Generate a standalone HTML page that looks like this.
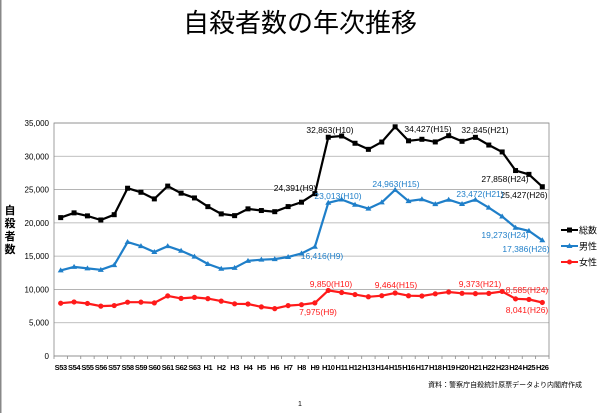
<!DOCTYPE html>
<html><head><meta charset="utf-8"><style>
body{margin:0;background:#fff;width:600px;height:413px;overflow:hidden}
svg{display:block;font-family:"Liberation Sans","Noto Sans CJK JP",sans-serif}
</style></head><body>
<svg id="s" width="600" height="413" viewBox="0 0 600 413">
<rect x="0" y="0" width="1.5" height="413" fill="#888"/>
<text x="300" y="32" font-size="26" text-anchor="middle" font-family="Noto Sans CJK JP,sans-serif">自殺者数の年次推移</text>
<g font-size="11" font-weight="bold" font-family="Noto Sans CJK JP,sans-serif" text-anchor="middle">
<text x="10" y="214">自</text><text x="10" y="227">殺</text><text x="10" y="240">者</text><text x="10" y="253">数</text></g>
<text x="582" y="387" font-size="7" text-anchor="end" font-family="Noto Sans CJK JP,sans-serif">資料：警察庁自殺統計原票データより内閣府作成</text>
<text x="300" y="406" font-size="7" text-anchor="middle">1</text>
<g id="g"></g>
</svg>
<script>
const L=54,R=549,T=123,B=356,N=37,W=(R-L)/N;
const y=v=>B-(v/35000)*(B-T), x=i=>L+W*(i+0.5);
const cats=[];for(let i=53;i<=63;i++)cats.push('S'+i);for(let i=1;i<=26;i++)cats.push('H'+i);
const tot=[20788,21503,21048,20434,21228,25202,24596,23599,25524,24460,23742,22436,21346,21084,22104,21851,21679,22445,23104,24391,32863,33048,31957,31042,32143,34427,32325,32552,32155,33093,32249,32845,31690,30651,27858,27283,25427];
const male=[12859,13386,13155,12942,13654,17116,16508,15624,16497,15802,14934,13818,13102,13242,14296,14468,14560,14874,15393,16416,23013,23512,22727,22144,23080,24963,23272,23540,22813,23478,22831,23472,22283,20955,19273,18787,17386];
const fem=[7929,8117,7893,7492,7574,8086,8088,7975,9027,8658,8808,8618,8244,7842,7808,7383,7119,7571,7711,7975,9850,9536,9230,8898,9063,9464,9053,9012,9342,9615,9418,9373,9407,9696,8585,8496,8041];
let h='';
for(let v=0;v<=35000;v+=5000){h+=`<line x1="${L}" x2="${R}" y1="${y(v)}" y2="${y(v)}" stroke="#aaa" stroke-width="0.8"/>`;
h+=`<text x="${L-5}" y="${y(v)+3}" font-size="8" text-anchor="end">${v.toLocaleString('en-US')}</text>`;}
h+=`<rect x="${L}" y="${T}" width="${R-L}" height="${B-T}" fill="none" stroke="#888" stroke-width="0.8"/>`;
for(let i=0;i<=N;i++)h+=`<line x1="${L+W*i}" x2="${L+W*i}" y1="${B}" y2="${B+3}" stroke="#888" stroke-width="0.8"/>`;
cats.forEach((c,i)=>h+=`<text x="${x(i)}" y="${B+14}" font-size="7.5" text-anchor="middle" font-weight="bold" letter-spacing="-0.4">${c}</text>`);
function ser(d,col,mk){let p=d.map((v,i)=>x(i).toFixed(1)+','+y(v).toFixed(1)).join(' ');
h+=`<polyline points="${p}" fill="none" stroke="${col}" stroke-width="2.2"/>`;
d.forEach((v,i)=>{const X=x(i),Y=y(v);
if(mk=='s')h+=`<rect x="${X-2.5}" y="${Y-2.5}" width="5" height="5" fill="${col}"/>`;
else if(mk=='t')h+=`<polygon points="${X},${Y-3} ${X-3},${Y+2} ${X+3},${Y+2}" fill="${col}"/>`;
else h+=`<circle cx="${X}" cy="${Y}" r="2.6" fill="${col}"/>`;});}
ser(tot,'#000','s');ser(male,'#1f7fc9','t');ser(fem,'#ff1a1a','c');
const lab=(t,X,Y,c)=>h+=`<text x="${X}" y="${Y}" font-size="8.5" fill="${c}" text-anchor="middle">${t}</text>`;
lab('24,391(H9)',295,191,'#000');lab('32,863(H10)',330,133,'#000');lab('34,427(H15)',428,132,'#000');lab('32,845(H21)',485,133,'#000');
lab('27,858(H24)',505,182,'#000');lab('25,427(H26)',524,198,'#000');
lab('23,013(H10)',338,199,'#1f7fc9');lab('24,963(H15)',396,187,'#1f7fc9');lab('23,472(H21)',480,197,'#1f7fc9');
lab('16,416(H9)',322,259,'#1f7fc9');lab('19,273(H24)',505,238,'#1f7fc9');lab('17,386(H26)',526,252,'#1f7fc9');
lab('9,850(H10)',331,287,'#ff1a1a');lab('9,464(H15)',396,288,'#ff1a1a');lab('9,373(H21)',480,287,'#ff1a1a');
lab('7,975(H9)',318,315,'#ff1a1a');lab('8,585(H24)',527,293,'#ff1a1a');lab('8,041(H26)',527,313,'#ff1a1a');
[['総数','#000','s',230],['男性','#1f7fc9','t',246],['女性','#ff1a1a','c',262]].forEach(([t,c,m,Y])=>{
h+=`<line x1="561" x2="578" y1="${Y}" y2="${Y}" stroke="${c}" stroke-width="2"/>`;
if(m=='s')h+=`<rect x="567" y="${Y-2.5}" width="5" height="5" fill="${c}"/>`;
else if(m=='t')h+=`<polygon points="569.5,${Y-3} 566.5,${Y+2} 572.5,${Y+2}" fill="${c}"/>`;
else h+=`<circle cx="569.5" cy="${Y}" r="2.5" fill="${c}"/>`;
h+=`<text x="579" y="${Y+3.5}" font-size="9" font-family="Noto Sans CJK JP,sans-serif">${t}</text>`;});
document.getElementById('g').innerHTML=h;
</script>
</body></html>
